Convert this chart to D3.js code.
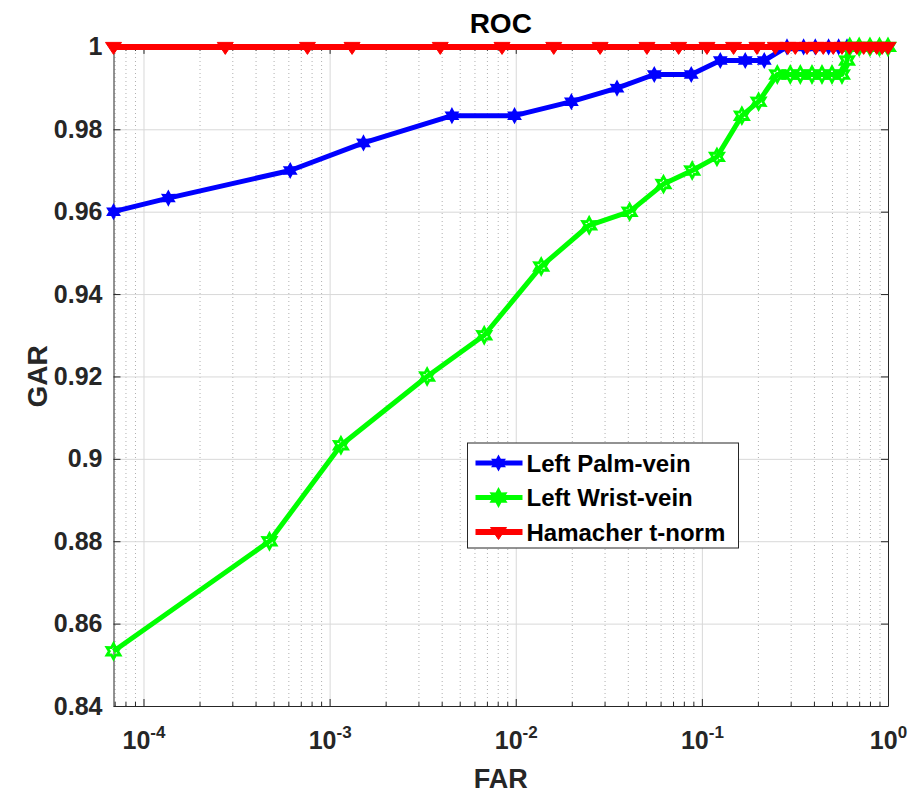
<!DOCTYPE html>
<html>
<head>
<meta charset="utf-8">
<script src="https://cdn.jsdelivr.net/npm/d3@7"></script>
<style>
	body { margin: 0; background: #fff; }
	text { font-family: "Liberation Sans", Arial, Helvetica, sans-serif; font-weight: bold; }
</style>
</head>
<body>
<script>

// ROC data
var farPalm = [6.9e-5, 1.36e-4, 6.14e-4, 1.52e-3, 4.54e-3, 9.85e-3, 1.99e-2, 3.5e-2, 5.55e-2, 8.77e-2,
	0.1256, 0.171, 0.2164, 0.2866, 0.352, 0.4068, 0.4795, 0.543, 0.6022, 0.7, 0.8, 0.9, 1.0]
var garPalm = [0.96, 0.9633, 0.97, 0.9767, 0.9833, 0.9833, 0.9867, 0.99, 0.9933, 0.9933,
	0.9967, 0.9967, 0.9967, 1, 1, 1, 1, 1, 1, 1, 1, 1, 1]

var farWrist = [6.9e-5, 4.75e-4, 1.15e-3, 3.34e-3, 6.77e-3, 1.37e-2, 2.48e-2, 4.09e-2, 6.22e-2, 8.87e-2,
	0.1205, 0.164, 0.2017, 0.2542, 0.2985, 0.338, 0.3905, 0.4419, 0.5001, 0.5659, 0.6022, 0.623,
	0.7, 0.8, 0.9, 1.0]
var garWrist = [0.8533, 0.88, 0.9033, 0.92, 0.93, 0.9467, 0.9567, 0.96, 0.9667, 0.97,
	0.9733, 0.9833, 0.9867, 0.9933, 0.9933, 0.9933, 0.9933, 0.9933, 0.9933, 0.9933, 0.9967, 1,
	1, 1, 1, 1]

var farHam = [6.9e-5, 2.75e-4, 7.6e-4, 1.32e-3, 3.93e-3, 8.44e-3, 1.6e-2, 2.84e-2, 5.07e-2, 7.5e-2,
	0.1065, 0.148, 0.1977, 0.248, 0.29, 0.3177, 0.367, 0.41, 0.449, 0.508, 0.566, 0.62, 0.68,
	0.74, 0.8, 0.87, 0.93, 1.0]
var garHam = farHam.map(() => 1)

var xTicks = [1e-4, 1e-3, 1e-2, 1e-1, 1]
var xTickExp = ['-4', '-3', '-2', '-1', '0']
var yTicks = [0.84, 0.86, 0.88, 0.9, 0.92, 0.94, 0.96, 0.98, 1]

var seriesNames = ['Left Palm-vein', 'Left Wrist-vein', 'Hamacher t-norm']
var seriesColors = ['#0000ff', '#00ff00', '#ff0000']

var width = 910
var height = 793
var margin = { top : 46.9, right : 22, bottom : 87, left : 113.5 }
var plotW = width - margin.left - margin.right
var plotH = height - margin.top - margin.bottom
var axisColor = '#262626'

var svg = d3.select('body')
	.append('svg')
	.attr('width', width)
	.attr('height', height)

var graph = svg.append('g')
	.attr('transform', `translate(${margin.left}, ${margin.top})`)

var xScale = d3.scaleLog()
	.domain([6.9e-5, 1])
	.range([0, plotW])

var yScale = d3.scaleLinear()
	.domain([0.84, 1])
	.range([plotH, 0])

// minor log positions
var minorTicks = []
for (var e = -5; e < 0; e++)
	for (var m = 2; m < 10; m++) {
		var v = m * Math.pow(10, e)
		if (v > 6.9e-5 && v < 1) minorTicks.push(v)
	}

// grid
graph.append('g')
	.attr('class', 'grid minor')
	.attr('transform', `translate(0, ${plotH})`)
	.call(d3.axisBottom(xScale).tickValues(minorTicks).tickSize(-plotH).tickFormat(''))
	.call(g => g.select('.domain').remove())
	.call(g => g.selectAll('line').attr('stroke', '#b0b0b0').attr('stroke-dasharray', '1,3'))

graph.append('g')
	.attr('class', 'grid major')
	.attr('transform', `translate(0, ${plotH})`)
	.call(d3.axisBottom(xScale).tickValues(xTicks).tickSize(-plotH).tickFormat(''))
	.call(g => g.select('.domain').remove())
	.call(g => g.selectAll('line').attr('stroke', '#d8d8d8'))

graph.append('g')
	.attr('class', 'grid major')
	.call(d3.axisLeft(yScale).tickValues(yTicks).tickSize(-plotW).tickFormat(''))
	.call(g => g.select('.domain').remove())
	.call(g => g.selectAll('line').attr('stroke', '#d8d8d8'))

// axes (box with inward ticks)
function styleAxis(g) {
	g.select('.domain').attr('stroke', axisColor)
	g.selectAll('.tick line').attr('stroke', axisColor)
}

var xAxis = graph.append('g')
	.attr('class', 'axis axis--x')
	.attr('transform', `translate(0, ${plotH})`)
	.call(d3.axisBottom(xScale).tickValues(xTicks).tickSizeInner(-7).tickSizeOuter(0).tickFormat(''))
	.call(styleAxis)

xAxis.selectAll('.tick text')
	.attr('fill', axisColor)
	.attr('font-size', 25)
	.attr('text-anchor', 'middle')
	.attr('dy', 0)
	.each(function (d, i) {
		var t = d3.select(this)
		t.append('tspan').text('10')
		t.append('tspan').attr('font-size', 17).attr('dy', -11).text(xTickExp[i])
	})
	.attr('y', 43)

graph.append('g')
	.attr('transform', `translate(0, ${plotH})`)
	.call(d3.axisBottom(xScale).tickValues(minorTicks).tickSize(-4).tickFormat(''))
	.call(g => g.select('.domain').remove())
	.call(styleAxis)

graph.append('g')
	.call(d3.axisTop(xScale).tickValues(xTicks).tickSizeInner(-7).tickSizeOuter(0).tickFormat(''))
	.call(styleAxis)

graph.append('g')
	.call(d3.axisTop(xScale).tickValues(minorTicks).tickSize(-4).tickFormat(''))
	.call(g => g.select('.domain').remove())
	.call(styleAxis)

graph.append('g')
	.attr('class', 'axis axis--y')
	.call(d3.axisLeft(yScale).tickValues(yTicks).tickSizeInner(-7).tickSizeOuter(0).tickPadding(11)
		.tickFormat(d => d3.format('')(+d.toFixed(2))))
	.call(styleAxis)
	.call(g => g.selectAll('.tick text').attr('fill', axisColor).attr('font-size', 25))

graph.append('g')
	.attr('transform', `translate(${plotW}, 0)`)
	.call(d3.axisRight(yScale).tickValues(yTicks).tickSizeInner(-7).tickSizeOuter(0).tickFormat(''))
	.call(styleAxis)

// markers
function hexagram(r) {
	var pts = []
	for (var k = 0; k < 12; k++) {
		var a = -Math.PI / 2 + k * Math.PI / 6
		var rr = k % 2 === 0 ? r : r * 0.56
		pts.push([rr * Math.cos(a), rr * Math.sin(a)])
	}
	return 'M' + pts.map(p => p[0].toFixed(2) + ',' + p[1].toFixed(2)).join('L') + 'Z'
}
function triDown(w, h) {
	return `M${-w / 2},${-h / 2}L${w / 2},${-h / 2}L0,${h / 2}Z`
}

var series = [
	{ far : farPalm, gar : garPalm, color : seriesColors[0], lw : 5, marker : hexagram(7), fill : seriesColors[0], mw : 1.5, dy : 0 },
	{ far : farWrist, gar : garWrist, color : seriesColors[1], lw : 5, marker : hexagram(7.5), fill : 'none', mw : 2.8, dy : 0 },
	{ far : farHam, gar : garHam, color : seriesColors[2], lw : 6, marker : triDown(16, 12), fill : seriesColors[2], mw : 1, dy : 1.5 }
]

var line = d3.line()
	.x(d => xScale(d[0]))
	.y(d => yScale(d[1]))

series.forEach(s => {
	var pts = s.far.map((f, i) => [f, s.gar[i]])
	graph.append('path')
		.datum(pts)
		.attr('d', line)
		.attr('fill', 'none')
		.attr('stroke', s.color)
		.attr('stroke-width', s.lw)
		.attr('stroke-linejoin', 'round')

	graph.append('g')
		.selectAll('path')
		.data(pts)
		.join('path')
			.attr('d', s.marker)
			.attr('transform', d => `translate(${xScale(d[0])}, ${yScale(d[1]) + s.dy})`)
			.attr('fill', s.fill)
			.attr('stroke', s.color)
			.attr('stroke-width', s.mw)
})

// legend
var legend = svg.append('g')
	.attr('transform', 'translate(467.5, 443)')

legend.append('rect')
	.attr('width', 271)
	.attr('height', 105)
	.attr('fill', '#fff')
	.attr('stroke', axisColor)
	.attr('stroke-width', 1)

series.forEach((s, i) => {
	var cy = 20 + i * 34.5
	legend.append('line')
		.attr('x1', 8).attr('x2', 55)
		.attr('y1', cy).attr('y2', cy)
		.attr('stroke', s.color)
		.attr('stroke-width', s.lw)
	legend.append('path')
		.attr('d', s.marker)
		.attr('transform', `translate(31, ${cy + s.dy})`)
		.attr('fill', s.color)
		.attr('stroke', s.color)
		.attr('stroke-width', s.mw)
	legend.append('text')
		.attr('x', 59)
		.attr('y', cy + 8.5)
		.attr('font-size', 24)
		.attr('fill', '#000')
		.text(seriesNames[i])
})

// labels
svg.append('text')
	.attr('x', margin.left + plotW / 2)
	.attr('y', 33)
	.attr('text-anchor', 'middle')
	.attr('font-size', 28)
	.attr('fill', '#000')
	.text('ROC')

svg.append('text')
	.attr('x', margin.left + plotW / 2)
	.attr('y', 788)
	.attr('text-anchor', 'middle')
	.attr('font-size', 27)
	.attr('fill', axisColor)
	.text('FAR')

svg.append('text')
	.attr('transform', `translate(47, ${margin.top + plotH / 2}) rotate(-90)`)
	.attr('text-anchor', 'middle')
	.attr('font-size', 28)
	.attr('fill', axisColor)
	.text('GAR')

</script>
</body>
</html>
